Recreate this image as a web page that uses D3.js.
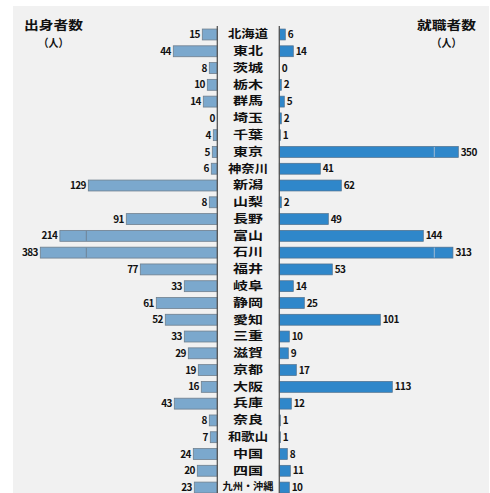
<!DOCTYPE html>
<html>
<head>
<meta charset="utf-8">
<script src="https://cdn.jsdelivr.net/npm/d3@7"></script>
<style>
  html, body { margin: 0; padding: 0; background: #fff; }
  svg { display: block; }
  text { font-family: "Noto Sans CJK JP", "Noto Sans", sans-serif; font-weight: 700; fill: #111; }
</style>
</head>
<body>
<svg id="chart" width="490" height="493"></svg>
<script>
// Regions (rows, top to bottom)
const regions = ["北海道","東北","茨城","栃木","群馬","埼玉","千葉","東京","神奈川","新潟","山梨","長野",
  "富山","石川","福井","岐阜","静岡","愛知","三重","滋賀","京都","大阪","兵庫","奈良","和歌山","中国","四国","九州・沖縄"];
// People by birthplace (left)
const originCounts = [15,44,8,10,14,0,4,5,6,129,8,91,214,383,77,33,61,52,33,29,19,16,43,8,7,24,20,23];
// People by place of employment (right)
const employCounts = [6,14,0,2,5,2,1,350,41,62,2,49,144,313,53,14,25,101,10,9,17,113,12,1,1,8,11,10];

const leftTitle = "出身者数";
const rightTitle = "就職者数";
const unitLabel = "（人）";

const svg = d3.select("#chart");
const W = 490, H = 493;

// light panel
svg.append("rect").attr("x", 13).attr("y", 6).attr("width", 476).attr("height", H - 6).attr("fill", "#f1f1f1");

const leftAxisX = 217.3, rightAxisX = 279.3, centerX = 248;
const breakAt = 150; // bars above this are drawn shortened with a break mark

const y = d3.scaleBand().domain(regions).range([26.1, 26.1 + regions.length * 16.78])
  .paddingInner(0.35).paddingOuter(0.175);

// piecewise-linear lengths: true scale up to the break, compressed beyond
const lenL = d3.scaleLinear().domain([0, breakAt, d3.max(originCounts)]).range([0, breakAt, 177]);
const lenR = d3.scaleLinear().domain([0, breakAt, d3.max(employCounts)]).range([0, breakAt, 179]);

// left bars
const gL = svg.append("g");
gL.selectAll("rect").data(regions).join("rect")
  .attr("x", (d, i) => leftAxisX - lenL(originCounts[i]))
  .attr("y", d => y(d))
  .attr("width", (d, i) => lenL(originCounts[i]))
  .attr("height", y.bandwidth())
  .attr("fill", "#7ba8cd")
  .attr("stroke", "#6f7f8e").attr("stroke-width", 0.8);
gL.selectAll("line.brk").data(regions.filter((d, i) => originCounts[i] > breakAt)).join("line")
  .attr("class", "brk")
  .attr("x1", leftAxisX - 131).attr("x2", leftAxisX - 131)
  .attr("y1", d => y(d) + 0.5).attr("y2", d => y(d) + y.bandwidth() - 0.5)
  .attr("stroke", "#6f8296").attr("stroke-width", 1);
gL.selectAll("text").data(regions).join("text")
  .attr("x", (d, i) => leftAxisX - lenL(originCounts[i]) - 2.5)
  .attr("y", d => y(d) + y.bandwidth() / 2 + 3.6)
  .attr("text-anchor", "end")
  .attr("font-family", "'Noto Sans', sans-serif")
  .attr("font-size", 10).attr("letter-spacing", -0.6)
  .text((d, i) => originCounts[i]);

// right bars
const gR = svg.append("g");
gR.selectAll("rect").data(regions).join("rect")
  .attr("x", rightAxisX)
  .attr("y", d => y(d))
  .attr("width", (d, i) => lenR(employCounts[i]))
  .attr("height", y.bandwidth())
  .attr("fill", "#2f87ca")
  .attr("stroke", "#4f6f8c").attr("stroke-width", 0.7);
gR.selectAll("line.brk").data(regions.filter((d, i) => employCounts[i] > breakAt)).join("line")
  .attr("class", "brk")
  .attr("x1", rightAxisX + 155).attr("x2", rightAxisX + 155)
  .attr("y1", d => y(d) + 0.5).attr("y2", d => y(d) + y.bandwidth() - 0.5)
  .attr("stroke", "#9fbad3").attr("stroke-width", 1);
gR.selectAll("text").data(regions).join("text")
  .attr("x", (d, i) => rightAxisX + lenR(employCounts[i]) + 2.5)
  .attr("y", d => y(d) + y.bandwidth() / 2 + 3.6)
  .attr("font-family", "'Noto Sans', sans-serif")
  .attr("font-size", 10).attr("letter-spacing", -0.6)
  .text((d, i) => employCounts[i]);

// axis lines
[leftAxisX, rightAxisX].forEach(x => {
  svg.append("line").attr("x1", x).attr("x2", x).attr("y1", 26).attr("y2", H)
    .attr("stroke", "#555").attr("stroke-width", 1.3);
});

// region names in the middle; the long bottom name is set a little smaller to stay on the page
const nameWidth = d => d.length >= 5 ? 51 : d.length === 3 ? 40 : 30;
svg.append("g").selectAll("text").data(regions).join("text")
  .attr("x", centerX)
  .attr("y", d => d.length >= 5 ? H - 3 : y(d) + y.bandwidth() / 2 + 3.8)
  .attr("text-anchor", "middle")
  .attr("font-size", d => d.length >= 5 ? 10 : 11.5)
  .attr("textLength", nameWidth)
  .attr("lengthAdjust", "spacingAndGlyphs")
  .text(d => d);

// headings
const heads = [{t: leftTitle, x: 53.5}, {t: rightTitle, x: 446.5}];
heads.forEach(h => {
  svg.append("text").attr("x", h.x).attr("y", 30).attr("text-anchor", "middle")
    .attr("font-size", 12.5).attr("textLength", 59).attr("lengthAdjust", "spacingAndGlyphs").text(h.t);
  svg.append("text").attr("x", h.x).attr("y", 47).attr("text-anchor", "middle")
    .attr("font-size", 11).attr("textLength", 30).attr("lengthAdjust", "spacingAndGlyphs").text(unitLabel);
});
</script>
</body>
</html>
